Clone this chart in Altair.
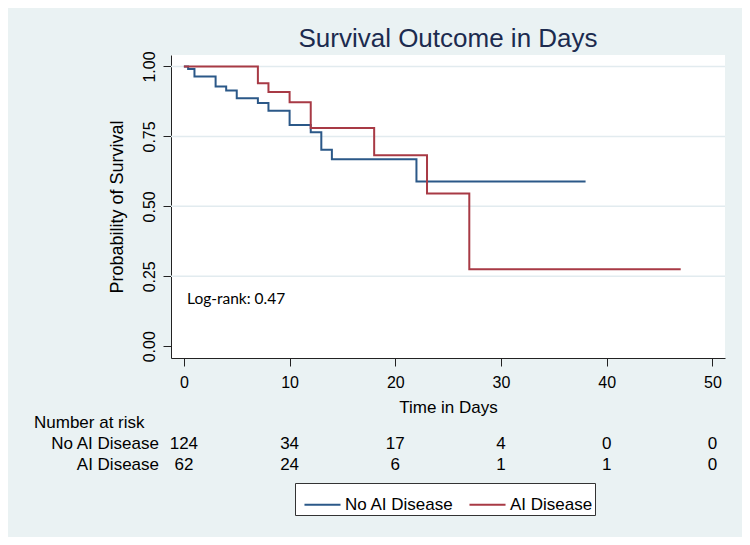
import altair as alt
import pandas as pd

# ---- data ----
groups = ["No AI Disease", "AI Disease"]
colors = ["#2b5888", "#a83a45"]

no_ai_time = [0, 0.4, 1, 3, 4, 5, 7, 8, 10, 12, 13, 14, 22, 38]
no_ai_surv = [1.0, 0.991, 0.964, 0.928, 0.914, 0.886, 0.869, 0.842, 0.791, 0.765, 0.702, 0.668, 0.589, 0.589]

ai_time = [0, 7, 8, 10, 12, 18, 23, 27, 47]
ai_surv = [1.0, 0.94, 0.909, 0.872, 0.78, 0.683, 0.546, 0.275, 0.275]

risk_times = [0, 10, 20, 30, 40, 50]
risk_no_ai = [124, 34, 17, 4, 0, 0]
risk_ai = [62, 24, 6, 1, 1, 0]

x_ticks = [0, 10, 20, 30, 40, 50]
y_ticks = [0, 0.25, 0.5, 0.75, 1.0]
grid_vals = [0.25, 0.5, 0.75, 1.0]

title_text = "Survival Outcome in Days"
x_title = "Time in Days"
y_title = "Probability of Survival"
logrank_text = "Log-rank: 0.47"
risk_header = "Number at risk"

# ---- tables ----
surv = pd.concat([
    pd.DataFrame({"time": no_ai_time, "surv": no_ai_surv, "group": groups[0]}),
    pd.DataFrame({"time": ai_time, "surv": ai_surv, "group": groups[1]}),
])
risk = pd.concat([
    pd.DataFrame({"time": risk_times, "n": risk_no_ai, "group": groups[0]}),
    pd.DataFrame({"time": risk_times, "n": risk_ai, "group": groups[1]}),
])
grid = pd.DataFrame({"y": grid_vals})

FONT = "Liberation Sans"
W, H = 554, 303

xscale = alt.Scale(domain=[-1.22, 51.19], nice=False, zero=False)
yscale = alt.Scale(domain=[-0.042, 1.041], nice=False, zero=False)

grid_layer = alt.Chart(grid).mark_rule(color="#e2ebef", strokeWidth=1.5).encode(
    y=alt.Y("y:Q", scale=yscale)
)

lines = alt.Chart(surv).mark_line(interpolate="step-after", strokeWidth=2).encode(
    x=alt.X("time:Q", scale=xscale,
            axis=alt.Axis(values=x_ticks, title=x_title, grid=False, format="d",
                          labelFontSize=16, titleFontSize=17, labelFont=FONT, titleFont=FONT,
                          titleFontWeight="normal", labelColor="black", titleColor="black",
                          domainColor="#222", tickColor="#222", tickSize=8,
                          labelPadding=8, titlePadding=9, labelFlush=False)),
    y=alt.Y("surv:Q", scale=yscale,
            axis=alt.Axis(values=y_ticks, title=y_title, grid=False, format=".2f",
                          labelAngle=270, labelAlign="center", labelBaseline="bottom",
                          labelFontSize=16, titleFontSize=18, labelFont=FONT, titleFont=FONT,
                          titleFontWeight="normal", labelColor="black", titleColor="black",
                          domainColor="#222", tickColor="#222", tickSize=8,
                          labelPadding=6, titlePadding=15, labelFlush=False)),
    color=alt.Color("group:N", scale=alt.Scale(domain=groups, range=colors),
                    legend=alt.Legend(orient="none", legendX=124, legendY=428,
                                      direction="horizontal", title=None,
                                      symbolType="stroke", symbolSize=1300,
                                      symbolStrokeWidth=2, labelFontSize=17, labelFont=FONT,
                                      labelColor="black", strokeColor="#333",
                                      fillColor="white", padding=2, symbolOffset=6,
                                      labelOffset=3, columnPadding=8)),
    detail="group:N",
    order="time:Q",
)

logrank = alt.Chart(pd.DataFrame({"t": [logrank_text]})).mark_text(
    align="left", baseline="middle", font="Lato", fontSize=15.5, color="black"
).encode(x=alt.value(16), y=alt.value(244), text="t:N")

header = alt.Chart(pd.DataFrame({"t": [risk_header]})).mark_text(
    align="left", baseline="middle", font=FONT, fontSize=17, color="black"
).encode(x=alt.value(-137), y=alt.value(368), text="t:N")

row_y = [389, 410]
row_layers = []
for g, ry in zip(groups, row_y):
    row_layers.append(
        alt.Chart(pd.DataFrame({"t": [g]})).mark_text(
            align="right", baseline="middle", font=FONT, fontSize=17, color="black"
        ).encode(x=alt.value(-12), y=alt.value(ry), text="t:N")
    )
    row_layers.append(
        alt.Chart(risk).transform_filter(alt.datum.group == g).mark_text(
            align="center", baseline="middle", font=FONT, fontSize=17, color="black"
        ).encode(x=alt.X("time:Q", scale=xscale), y=alt.value(ry), text="n:Q")
    )

chart = alt.layer(grid_layer, lines, logrank, header, *row_layers).properties(
    width=W, height=H,
    title=alt.TitleParams(title_text, fontSize=26, font=FONT, fontWeight="normal",
                          color="#1c2b4f", anchor="middle", offset=-1),
    autosize=alt.AutoSizeParams(type="none"),
    padding={"left": 163, "top": 47, "right": 17, "bottom": 179},
).configure(background="#eaf2f3").configure_view(fill="white", stroke=None)

chart.save("out.html", embed_options={"renderer": "svg", "actions": False})
